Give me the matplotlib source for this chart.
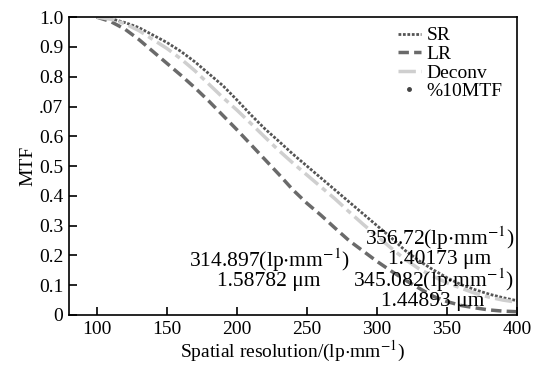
import numpy as np
import matplotlib.pyplot as plt

plt.rcParams['font.family'] = ['Liberation Serif', 'DejaVu Serif']
plt.rcParams['mathtext.fontset'] = 'stix'

x = [100, 110, 120, 130, 140, 150, 160, 170, 180, 190, 200, 210, 220, 230, 240, 250,
     260, 270, 280, 290, 300, 310, 320, 330, 340, 350, 360, 370, 380, 390, 400]
sr = [1.0, 0.995, 0.982, 0.965, 0.94, 0.915, 0.885, 0.85, 0.81, 0.77, 0.722, 0.672,
      0.625, 0.583, 0.54, 0.50, 0.46, 0.42, 0.38, 0.34, 0.30, 0.26, 0.217, 0.182,
      0.152, 0.125, 0.102, 0.085, 0.07, 0.058, 0.048]
lr = [1.0, 0.985, 0.96, 0.925, 0.885, 0.845, 0.805, 0.763, 0.718, 0.67, 0.622, 0.572,
      0.522, 0.472, 0.42, 0.375, 0.335, 0.292, 0.25, 0.215, 0.18, 0.148, 0.118, 0.09,
      0.063, 0.045, 0.032, 0.024, 0.017, 0.013, 0.011]
deconv = [1.0, 0.993, 0.978, 0.955, 0.925, 0.895, 0.86, 0.82, 0.775, 0.73, 0.688, 0.643,
          0.597, 0.552, 0.51, 0.47, 0.43, 0.39, 0.347, 0.305, 0.265, 0.225, 0.187, 0.155,
          0.13, 0.108, 0.09, 0.073, 0.06, 0.05, 0.043]

yticks = [0, 0.1, 0.2, 0.3, 0.4, 0.5, 0.6, 0.7, 0.8, 0.9, 1.0]
ytick_labels = ['0', '0.1', '0.2', '0.3', '0.4', '0.5', '0.6', '.07', '0.8', '0.9', '1.0']
xticks = [100, 150, 200, 250, 300, 350, 400]

notes = [
    (345, 0.23, '356.72(lp$\\cdot$mm$^{-1}$)\n1.40173 μm'),
    (223, 0.156, '314.897(lp$\\cdot$mm$^{-1}$)\n1.58782 μm'),
    (340, 0.088, '345.082(lp$\\cdot$mm$^{-1}$)\n1.44893 μm'),
]

fig = plt.figure(figsize=(5.42, 3.65), dpi=100)
ax = fig.add_axes([0.127, 0.137, 0.827, 0.816])

ax.plot(x, sr, color='#555555', linestyle=(0, (1, 0.6)), linewidth=2, label='SR')
ax.plot(x, lr, color='#6a6a6a', linestyle=(0, (3, 1.5)), linewidth=2.5, label='LR')
ax.plot(x, deconv, color='#cfcfcf', linestyle=(0, (5, 1.5, 1.5, 1.5)), linewidth=2.5,
        label='Deconv')
ax.plot([], [], linestyle='none', marker='.', color='#444444', markersize=5,
        label='%10MTF')

for tx, ty, s in notes:
    ax.text(tx, ty, s, ha='center', va='center', fontsize=15.5, linespacing=0.88)

ax.set_xlim(80, 400)
ax.set_ylim(0, 1.0)
ax.set_xticks(xticks)
ax.set_yticks(yticks)
ax.set_yticklabels(ytick_labels)
ax.tick_params(direction='in', length=6, width=1.2, labelsize=14, pad=4)
for sp in ax.spines.values():
    sp.set_linewidth(1.2)

ax.set_xlabel('Spatial resolution/(lp$\\cdot$mm$^{-1}$)', fontsize=14, labelpad=1)
ax.set_ylabel('MTF', fontsize=14, labelpad=2)

ax.legend(loc='upper right', frameon=False, fontsize=14, handlelength=1.2,
          handletextpad=0.3, labelspacing=0.05, borderaxespad=0.1,
          bbox_to_anchor=(0.99, 1.0))

fig.savefig('out.png', dpi=100)
